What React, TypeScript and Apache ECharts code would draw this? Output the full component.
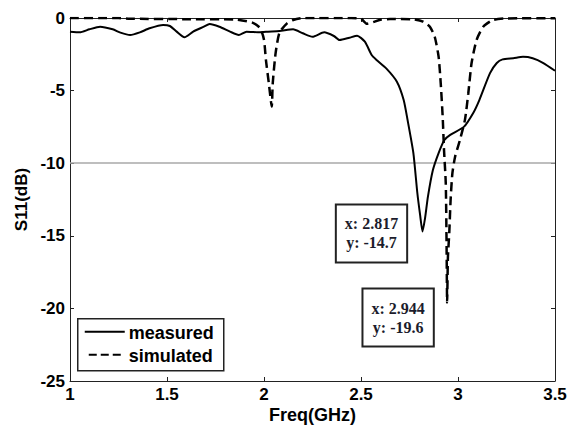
import React, { useEffect, useRef } from "react";
import * as echarts from "echarts";

const measuredFreq = [
  1.0, 1.05, 1.1, 1.155, 1.22, 1.26, 1.31, 1.36, 1.41, 1.48, 1.515, 1.55, 1.59, 1.635, 1.69, 1.72, 1.77,
  1.825, 1.87, 1.91, 1.98, 2.01, 2.08, 2.15, 2.2, 2.25, 2.31, 2.36, 2.39, 2.44, 2.48, 2.52, 2.555, 2.58,
  2.63, 2.685, 2.72, 2.74, 2.77, 2.79, 2.805, 2.817, 2.83, 2.845, 2.87, 2.9, 2.93, 2.96, 3.03, 3.08, 3.11,
  3.165, 3.2, 3.23, 3.285, 3.335, 3.385, 3.44, 3.5,
];
const measuredS11 = [
  -0.94, -0.99, -0.78, -0.6, -0.78, -1.01, -1.17, -0.99, -0.71, -0.48, -0.55, -0.94, -1.33, -0.94, -0.6,
  -0.41, -0.6, -0.94, -1.17, -0.94, -0.99, -0.94, -0.9, -0.78, -1.05, -1.29, -0.99, -1.24, -1.52, -1.36,
  -1.22, -1.63, -2.55, -2.89, -3.47, -4.39, -5.65, -7.02, -9.3, -12.0, -13.6, -14.7, -13.8, -12.3, -10.5,
  -9.3, -8.4, -8.05, -7.5, -6.5, -5.65, -3.8, -3.1, -2.85, -2.77, -2.67, -2.77, -3.1, -3.63,
];

const simulatedFreq = [
  1.0, 1.25, 1.3, 1.6, 1.85, 1.94, 1.98, 2.0, 2.01, 2.025, 2.04, 2.045, 2.06, 2.08, 2.12, 2.15, 2.2, 2.45,
  2.5, 2.53, 2.56, 2.6, 2.65, 2.77, 2.82, 2.855, 2.88, 2.9, 2.911, 2.921, 2.928, 2.937, 2.941, 2.944, 2.948,
  2.955, 2.962, 2.971, 2.985, 3.01, 3.036, 3.053, 3.07, 3.096, 3.13, 3.18, 3.25, 3.5,
];
const simulatedS11 = [
  0, 0, -0.05, -0.08, -0.1, -0.32, -0.69, -1.5, -2.9, -4.5, -6.1, -4.5, -2.4, -1.0, -0.35, -0.14, 0,
  0, -0.05, -0.4, -0.3, -0.12, -0.07, -0.09, -0.25, -0.6, -1.29, -2.66, -4.5, -6.8, -9.1, -11.4, -15.5,
  -19.6, -16.5, -14.8, -12.5, -10.7, -9.55, -8.4, -7.0, -5.2, -3.1, -1.5, -0.6, -0.14, -0.03, -0.02,
];

const xTicks = { min: 1, max: 3.5, interval: 0.5 };
const yTicks = { min: -25, max: 0, interval: 5 };
const thresholdDb = -10;
const markers = [
  { series: "measured", x: 2.817, y: -14.7, offset: [-51, 2] },
  { series: "simulated", x: 2.944, y: -19.6, offset: [-49, 15] },
];
const legendNames = ["measured", "simulated"];

const SANS = "'Liberation Sans', Arial, sans-serif";
const SERIF = "'Liberation Serif', 'Times New Roman', serif";
const AXIS_COLOR = "#222";

function tipLabel(offset: number[]) {
  return {
    show: true,
    position: "inside",
    offset,
    formatter: (p: any) => `x: ${p.data.coord[0]}\ny: ${p.data.coord[1]}`,
    fontFamily: SERIF,
    fontWeight: "bold",
    fontSize: 16,
    lineHeight: 19,
    color: "#1c1c2c",
    backgroundColor: "#fff",
    borderColor: AXIS_COLOR,
    borderWidth: 2,
    padding: [9, 8, 9, 8],
  };
}

function markPointFor(name: string) {
  return {
    silent: true,
    symbol: "rect",
    symbolSize: 1,
    itemStyle: { color: "transparent" },
    data: markers
      .filter((m) => m.series === name)
      .map((m) => ({ coord: [m.x, m.y], label: tipLabel(m.offset) })),
  };
}

export default function App() {
  const ref = useRef<HTMLDivElement>(null);
  useEffect(() => {
    if (!ref.current) return;
    const chart = echarts.init(ref.current, null, { renderer: "svg" });
    const axisCommon = {
      axisLine: { show: true, onZero: false, lineStyle: { color: AXIS_COLOR, width: 1 } },
      axisTick: { show: true, inside: true, length: 4, lineStyle: { color: AXIS_COLOR } },
      splitLine: { show: false },
    };
    chart.setOption({
      animation: false,
      backgroundColor: "#fff",
      grid: {
        left: 70,
        right: 20,
        top: 18,
        bottom: 44,
        containLabel: false,
        outerBoundsMode: "none",
      },
      xAxis: [
        {
          type: "value",
          ...xTicks,
          ...axisCommon,
          name: "Freq(GHz)",
          nameLocation: "middle",
          nameGap: 25,
          nameMoveOverlap: false,
          nameTextStyle: { fontFamily: SANS, fontWeight: "bold", fontSize: 18, color: "#000" },
          axisLabel: { fontFamily: SANS, fontWeight: "bold", fontSize: 17, color: "#000", margin: 5 },
        },
        {
          type: "value",
          position: "top",
          ...xTicks,
          ...axisCommon,
          axisLabel: { show: false },
        },
      ],
      yAxis: [
        {
          type: "value",
          ...yTicks,
          ...axisCommon,
          name: "S11(dB)",
          nameLocation: "middle",
          nameGap: 40,
          nameRotate: 90,
          nameMoveOverlap: false,
          nameTextStyle: { fontFamily: SANS, fontWeight: "bold", fontSize: 17, color: "#000" },
          axisLabel: { fontFamily: SANS, fontWeight: "bold", fontSize: 17, color: "#000", margin: 5 },
        },
        {
          type: "value",
          position: "right",
          ...yTicks,
          ...axisCommon,
          axisLabel: { show: false },
        },
      ],
      series: [
        {
          name: "measured",
          type: "line",
          data: measuredFreq.map((f, i) => [f, measuredS11[i]]),
          symbol: "none",
          smooth: 0.2,
          lineStyle: { color: "#000", width: 2 },
          z: 3,
          markLine: {
            silent: true,
            symbol: "none",
            label: { show: false },
            lineStyle: { color: "#a8a8a8", width: 1.5, type: "solid" },
            data: [{ yAxis: thresholdDb }],
            z: 1,
          },
          markPoint: markPointFor("measured"),
        },
        {
          name: "simulated",
          type: "line",
          data: simulatedFreq.map((f, i) => [f, simulatedS11[i]]),
          symbol: "none",
          smooth: 0.2,
          lineStyle: { color: "#000", width: 2.5, type: [9, 5] },
          z: 4,
          markPoint: markPointFor("simulated"),
        },
      ],
      graphic: [
        {
          type: "group",
          left: 77,
          top: 318,
          children: [
            {
              type: "rect",
              shape: { x: 0, y: 0, width: 146, height: 52 },
              style: { fill: "#fff", stroke: AXIS_COLOR, lineWidth: 1.5 },
            },
            {
              type: "line",
              shape: { x1: 7, y1: 13, x2: 47, y2: 13 },
              style: { stroke: "#000", lineWidth: 2 },
            },
            {
              type: "text",
              x: 51,
              y: 14,
              style: {
                text: legendNames[0],
                fontFamily: SANS,
                fontWeight: "bold",
                fontSize: 18,
                fill: "#000",
                verticalAlign: "middle",
              },
            },
            {
              type: "line",
              shape: { x1: 11, y1: 36, x2: 47, y2: 36 },
              style: { stroke: "#000", lineWidth: 2, lineDash: [8, 4] },
            },
            {
              type: "text",
              x: 51,
              y: 37,
              style: {
                text: legendNames[1],
                fontFamily: SANS,
                fontWeight: "bold",
                fontSize: 18,
                fill: "#000",
                verticalAlign: "middle",
              },
            },
          ],
        },
      ],
    });
    return () => chart.dispose();
  }, []);
  return (
    <div
      ref={ref}
      style={{ position: "fixed", left: 0, top: 0, width: 575, height: 425, background: "#fff" }}
    />
  );
}
